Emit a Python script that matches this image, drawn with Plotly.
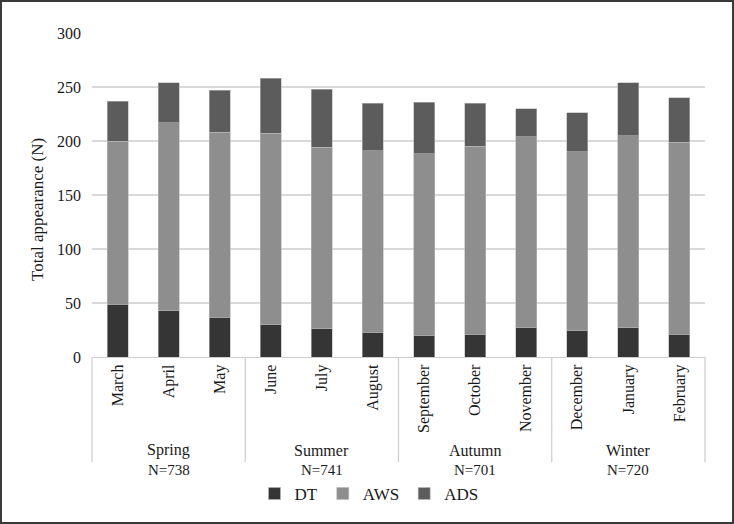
import plotly.graph_objects as go

months = ["March", "April", "May", "June", "July", "August",
          "September", "October", "November", "December", "January", "February"]
seasons = ["Spring", "Summer", "Autumn", "Winter"]
dt = [49, 43, 37, 30, 26, 23, 20, 21, 27, 25, 27, 21]
aws = [151, 174, 171, 177, 168, 168, 168, 174, 177, 165, 178, 178]
ads = [37, 37, 39, 51, 54, 44, 48, 40, 26, 36, 49, 41]
y_ticks = [0, 50, 100, 150, 200, 250, 300]
y_title = "Total appearance (N)"

FONT = "Liberation Serif"
W, H = 734, 524
ML, MR, MT, MB = 92, 29, 33, 167
PW, PH = W - ML - MR, H - MT - MB


def px_x(px):
    return (px - ML) / PW


def px_y(py):
    return (H - MB - py) / PH


fig = go.Figure()
for name, vals, col in [("DT", dt, "#353535"), ("AWS", aws, "#8e8e8e"), ("ADS", ads, "#5c5c5c")]:
    fig.add_trace(go.Bar(x=months, y=vals, name=name,
                         marker=dict(color=col, line=dict(width=0.6, color="#b8b8b8"))))

n_month = len(months)
per = n_month // len(seasons)
shapes = []
annotations = []
for k in range(len(seasons) + 1):
    xp = k * per / n_month
    shapes.append(dict(type="line", xref="paper", yref="paper", x0=xp, x1=xp, y0=0, y1=px_y(462),
                       line=dict(color="#cfcfcf", width=1.3)))
for i, s in enumerate(seasons):
    xc = (i * per + per / 2) / n_month
    total = sum(dt[j] + aws[j] + ads[j] for j in range(i * per, (i + 1) * per))
    annotations.append(dict(text=s, xref="paper", yref="paper", x=xc, y=px_y(450), showarrow=False,
                            xanchor="center", yanchor="middle",
                            font=dict(family=FONT, size=16, color="#1a1a1a")))
    annotations.append(dict(text=f"N={total}", xref="paper", yref="paper", x=xc, y=px_y(470),
                            showarrow=False, xanchor="center", yanchor="middle",
                            font=dict(family=FONT, size=15, color="#1a1a1a")))

# y-axis title
annotations.append(dict(text=y_title, xref="paper", yref="paper", x=px_x(37), y=px_y(210),
                        textangle=-90, showarrow=False, xanchor="center", yanchor="middle",
                        font=dict(family=FONT, size=17, color="#1a1a1a")))

# outer border
shapes.append(dict(type="rect", xref="paper", yref="paper",
                   x0=px_x(1), x1=px_x(W - 1), y0=px_y(H - 1), y1=px_y(1),
                   line=dict(color="#3a3a3a", width=2)))

fig.update_layout(
    width=W, height=H,
    margin=dict(l=ML, r=MR, t=MT, b=MB),
    barmode="stack", bargap=0.59,
    plot_bgcolor="white", paper_bgcolor="white",
    font=dict(family=FONT, size=16, color="#1a1a1a"),
    shapes=shapes, annotations=annotations,
    legend=dict(orientation="h", x=px_x(369), y=px_y(494), xanchor="center", yanchor="middle",
                font=dict(family=FONT, size=17, color="#1a1a1a"), itemwidth=30, traceorder="normal"),
    xaxis=dict(tickangle=-90, showgrid=False, showline=True, linecolor="#cfcfcf", linewidth=1.3,
               tickfont=dict(family=FONT, size=16), ticks="", range=[-0.5, n_month - 0.5]),
    yaxis=dict(range=[0, 300], tickvals=y_ticks, showgrid=True, gridcolor="#d9d9d9", gridwidth=1.5,
               zeroline=False, showline=False, ticks="", ticklabelstandoff=10,
               tickfont=dict(family=FONT, size=16)),
)

fig.write_html("out.html", config={"displayModeBar": False},
               post_script="document.body.style.margin='0';document.body.style.overflow='hidden';")
